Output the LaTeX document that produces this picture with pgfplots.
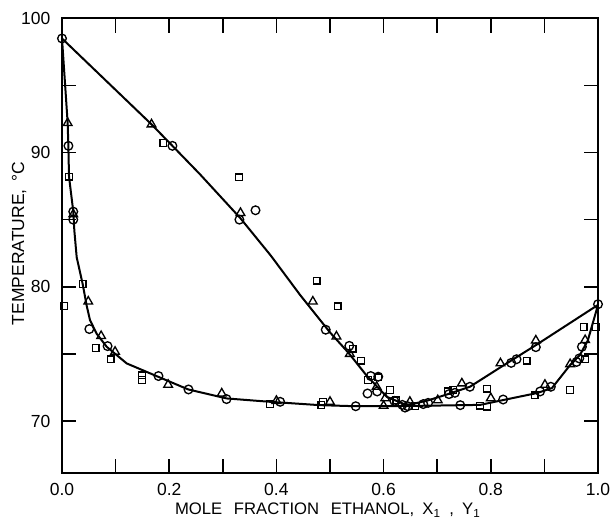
\documentclass[border=0pt]{standalone}
\usepackage{pgfplots}
\pgfplotsset{compat=1.18}
\usepackage{fontspec}
\setmainfont{Liberation Sans}
\begin{document}
\begin{tikzpicture}
\begin{axis}[
  scale only axis, width=321.6pt, height=273pt,
  xmin=0, xmax=1, ymin=66.1, ymax=100,
  xtick={0,0.2,0.4,0.6,0.8,1.0},
  ytick={70,80,90,100},
  line width=1.2pt,
  tick label style={font=\fontsize{10.5}{12}\selectfont},
  xticklabel style={yshift=-2pt},
  yticklabel style={xshift=-3pt},
  x tick label style={/pgf/number format/fixed, /pgf/number format/fixed zerofill, /pgf/number format/precision=1},
  /pgf/number format/assume math mode=true,
  every axis y label/.style={at={(rel axis cs:-0.080,0.505)}, anchor=center, rotate=90, font=\fontsize{10.5}{12}\selectfont},
  every axis x label/.style={at={(rel axis cs:0.496,-0.081)}, anchor=center, font=\fontsize{10}{12}\selectfont},
  ylabel={TEMPERATURE,\, °C},
  xlabel={MOLE\hspace{0.7em}FRACTION\hspace{0.7em}ETHANOL,\enspace X\textsubscript{1}\enspace,\enspace Y\textsubscript{1}},
  clip mode=individual,
  unbounded coords=jump,
]
% inward tick marks on the four sides of the frame
\addplot[black, line width=1pt, forget plot] coordinates {
(0.1,66.1) (0.1,67.16) (0.1,nan) (0.2,66.1) (0.2,67.16) (0.2,nan)
(0.3,66.1) (0.3,67.16) (0.3,nan) (0.4,66.1) (0.4,67.16) (0.4,nan)
(0.5,66.1) (0.5,67.16) (0.5,nan) (0.6,66.1) (0.6,67.16) (0.6,nan)
(0.7,66.1) (0.7,67.16) (0.7,nan) (0.8,66.1) (0.8,67.16) (0.8,nan)
(0.9,66.1) (0.9,67.16) (0.9,nan)
(0.1,100) (0.1,98.94) (0.1,nan) (0.2,100) (0.2,98.94) (0.2,nan)
(0.3,100) (0.3,98.94) (0.3,nan) (0.4,100) (0.4,98.94) (0.4,nan)
(0.5,100) (0.5,98.94) (0.5,nan) (0.6,100) (0.6,98.94) (0.6,nan)
(0.7,100) (0.7,98.94) (0.7,nan) (0.8,100) (0.8,98.94) (0.8,nan)
(0.9,100) (0.9,98.94) (0.9,nan)
(0,70) (0.0264,70) (0.5,nan) (0,75) (0.0264,75) (0.5,nan)
(0,80) (0.0264,80) (0.5,nan) (0,85) (0.0264,85) (0.5,nan)
(0,90) (0.0264,90) (0.5,nan) (0,95) (0.0264,95) (0.5,nan)
(1,70) (0.9736,70) (0.5,nan) (1,75) (0.9736,75) (0.5,nan)
(1,80) (0.9736,80) (0.5,nan) (1,85) (0.9736,85) (0.5,nan)
(1,90) (0.9736,90) (0.5,nan) (1,95) (0.9736,95)
};
% vapour (dew) curve
\addplot[black, line width=1.2pt] coordinates {
(0,98.5) (0.167,92.1) (0.206,90.5) (0.257,88.4) (0.333,85.1) (0.39,82.3) (0.444,79.4)
(0.5,76.6) (0.534,75.1) (0.568,73.4) (0.606,71.8) (0.643,71.18) (0.68,71.5)
(0.72,72.0) (0.761,72.55) (0.82,74.05) (0.884,75.65) (1.0,78.65)
};
% liquid (bubble) curve
\addplot[black, line width=1.2pt] coordinates {
(0,98.5) (0.0106,92.18) (0.0118,90.54) (0.0131,88.2) (0.0211,85.59) (0.023,84.2)
(0.0274,82.2) (0.0386,80.2) (0.046,78.6) (0.0522,77.52) (0.0647,76.5) (0.0834,75.53)
(0.1207,74.29) (0.1797,73.29) (0.2356,72.35) (0.3073,71.68) (0.388,71.43)
(0.481,71.18) (0.548,71.1) (0.643,71.12) (0.7,71.15) (0.746,71.18) (0.78,71.2)
(0.823,71.56) (0.886,72.08) (0.914,72.45) (0.948,74.17) (0.966,74.9) (0.981,76.0)
(1.0,78.65)
};
% circles
\addplot[only marks, mark=o, mark size=2.6pt, mark options={line width=0.8pt}] coordinates {
(0,98.5) (0.012,90.5) (0.021,85.6) (0.021,85.0) (0.206,90.5) (0.331,85.0) (0.361,85.7)
(0.492,76.8) (0.536,75.6) (0.576,73.35) (0.59,73.3) (0.570,72.05) (0.588,72.2)
(0.62,71.5) (0.635,71.2) (0.64,71.0) (0.645,71.1) (0.674,71.26) (0.683,71.35)
(0.722,72.0) (0.733,72.1) (0.761,72.55) (0.838,74.33) (0.848,74.6) (0.884,75.5)
(0.970,75.53) (1.0,78.7)
(0.051,76.85) (0.085,75.58) (0.18,73.35) (0.236,72.35) (0.307,71.63) (0.407,71.43)
(0.548,71.1) (0.743,71.18) (0.823,71.6) (0.892,72.2) (0.912,72.55) (0.960,74.4) (0.965,74.66)
};
% triangles
\addplot[only marks, mark=triangle, mark size=3pt, mark options={line width=0.8pt}] coordinates {
(0.0106,92.2) (0.021,85.4) (0.167,92.1) (0.333,85.5) (0.468,78.9) (0.512,76.3) (0.537,75.0)
(0.587,72.55) (0.603,71.7) (0.600,71.13) (0.649,71.43) (0.701,71.55) (0.746,72.8)
(0.818,74.3) (0.884,76.0) (0.976,76.03) (0.80,71.7) (0.901,72.7) (0.948,74.24)
(0.049,78.9) (0.073,76.33) (0.099,75.16) (0.198,72.7) (0.298,72.05) (0.40,71.5) (0.5,71.43)
};
% squares
\addplot[only marks, mark=square, mark size=2pt, mark options={line width=0.8pt}] coordinates {
(0.013,88.2) (0.189,90.7) (0.33,88.15) (0.475,80.45) (0.514,78.55) (0.542,75.4) (0.558,74.5)
(0.571,73.05) (0.59,73.25) (0.612,72.3) (0.624,71.55) (0.659,71.1) (0.72,72.2) (0.73,72.3)
(0.793,72.4) (0.867,74.5) (0.973,77.0) (0.996,77.0) (0.976,74.6) (0.948,72.3) (0.882,71.9)
(0.78,71.13) (0.793,71.06)
(0.004,78.56) (0.0386,80.2) (0.063,75.45) (0.091,74.6) (0.149,73.4) (0.149,73.05)
(0.388,71.26) (0.484,71.18) (0.487,71.43)
};
\end{axis}
\pgfresetboundingbox
\path[use as bounding box] ([xshift=-37.2pt,yshift=-30pt]current axis.south west) rectangle ([xshift=7.2pt,yshift=11pt]current axis.north east);
\end{tikzpicture}
\end{document}
